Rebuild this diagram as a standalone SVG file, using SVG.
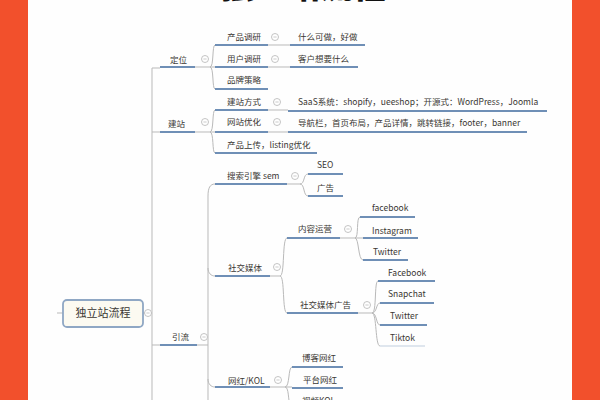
<svg xmlns="http://www.w3.org/2000/svg" width="600" height="400" viewBox="0 0 600 400">
<style>
text{font-family:"Noto Sans CJK SC","Liberation Sans",sans-serif;font-size:8.5px;fill:#3a3733}
.ul{stroke:#6f8fb6;stroke-width:1.8;fill:none}
.cn{stroke:#b9b9b9;stroke-width:1;fill:none}
.ci{fill:#fff;stroke:#b5b5b5;stroke-width:0.8}
</style>
<defs>
<g id="col"><circle class="ci" r="3.5"/><line x1="-1.6" y1="0" x2="1.6" y2="0" stroke="#b5b5b5" stroke-width="0.7"/></g>
</defs>
<rect width="600" height="400" fill="#fefefe"/>
<rect x="0" y="0" width="28" height="400" fill="#f2502c"/>
<rect x="572" y="0" width="28" height="400" fill="#f2502c"/>
<text x="303" y="-2" text-anchor="middle" style="font-size:33px;font-weight:900;fill:#111">独立站流程</text>

<g id="connectors">
<path class="cn" d="M57,313H63M143,313H152M152,68V400M152,68H160M152,132H160M152,345H160"/>
<path class="cn" d="M195,67H210M210,67C214,67 212,45 215,45M210,67H215M210,67C214,67 212,89 215,89"/>
<path class="cn" d="M195,132H210M210,132C214,132 212,110 215,110M210,132H215M210,132C214,132 212,153 215,153"/>
<path class="cn" d="M268,45H290M268,67H290M268,110H288M268,132H288"/>
<path class="cn" d="M197,345H208M215,184C210,184 208,188 208,196V400M208,268C208,273 211,276 215,276M208,379C208,384 211,387 215,387"/>
<path class="cn" d="M287,184H300M300,184C305,184 303,174 308,174M300,184C305,184 303,196 308,196"/>
<path class="cn" d="M270,276H280M280,276C285,276 282,238 287,238M280,276C285,276 282,313 287,313"/>
<path class="cn" d="M340,238H363M355,238C359,238 356,217 360,217M355,238C359,238 358,260 363,260"/>
<path class="cn" d="M358,313H372M372,313C377,313 374,281 378,281M372,313C377,313 376,303 380,303M372,313C377,313 376,325 380,325M372,313C377,313 375,346 380,346"/>
<path class="cn" d="M270,387H285M285,387C290,387 288,367 292,367M285,387H292M285,387C289,387 288,400 290,405"/>
</g>

<g id="root">
<rect x="63" y="300" width="80" height="27" rx="4" fill="#fcfaf1" stroke="#8fa7c4" stroke-width="1.8"/>
<text x="103" y="317" text-anchor="middle" style="font-size:11px">独立站流程</text>
<use href="#col" x="148" y="313"/>
</g>

<g id="dingwei">
<text x="170" y="63">定位</text><path class="ul" d="M160,67H195"/><use href="#col" x="205" y="59"/>
</g>
<g id="chanpindiaoyan">
<text x="227" y="40">产品调研</text><path class="ul" d="M215,45H268"/><use href="#col" x="275" y="37"/>
</g>
<g id="yonghudiaoyan">
<text x="227" y="62">用户调研</text><path class="ul" d="M215,67H268"/><use href="#col" x="275" y="59"/>
</g>
<g id="pinpaicelue">
<text x="227" y="83">品牌策略</text><path class="ul" d="M215,89H268"/>
</g>
<g id="shenmekezuo">
<text x="298" y="40">什么可做，好做</text><path class="ul" d="M290,45H365"/>
</g>
<g id="kehuxiangyao">
<text x="298" y="62">客户想要什么</text><path class="ul" d="M290,67H358"/>
</g>

<g id="jianzhan">
<text x="168" y="127">建站</text><path class="ul" d="M160,132H195"/><use href="#col" x="205" y="122"/>
</g>
<g id="jianzhanfangshi">
<text x="227" y="105">建站方式</text><path class="ul" d="M215,110H268"/><use href="#col" x="277" y="102"/>
</g>
<g id="wangzhanyouhua">
<text x="227" y="125">网站优化</text><path class="ul" d="M215,132H268"/><use href="#col" x="277" y="122"/>
</g>
<g id="chanpinshangchuan">
<text x="227" y="148">产品上传，listing优化</text><path class="ul" d="M215,153H317"/>
</g>
<g id="saas">
<text x="298" y="105">SaaS系统：shopify，ueeshop；开源式：WordPress，Joomla</text><path class="ul" d="M288,111H547"/>
</g>
<g id="daohang">
<text x="298" y="126">导航栏，首页布局，产品详情，跳转链接，footer，banner</text><path class="ul" d="M288,132H527"/>
</g>

<g id="yinliu">
<text x="172" y="340">引流</text><path class="ul" d="M160,345H197"/><use href="#col" x="204" y="337"/>
</g>
<g id="sousuo">
<text x="227" y="179">搜索引擎 sem</text><path class="ul" d="M215,184H287"/><use href="#col" x="295" y="176"/>
</g>
<g id="seo">
<text x="317" y="168">SEO</text><path class="ul" d="M308,174H343"/>
</g>
<g id="guanggao">
<text x="317" y="191">广告</text><path class="ul" d="M308,196H343"/>
</g>
<g id="shejiao">
<text x="228" y="271">社交媒体</text><path class="ul" d="M215,276H270"/><use href="#col" x="277" y="267"/>
</g>
<g id="neirong">
<text x="298" y="232">内容运营</text><path class="ul" d="M287,238H340"/><use href="#col" x="348" y="229"/>
</g>
<g id="facebook1">
<text x="372" y="211">facebook</text><path class="ul" d="M360,217H415"/>
</g>
<g id="instagram">
<text x="372" y="234">Instagram</text><path class="ul" d="M363,238H418"/>
</g>
<g id="twitter1">
<text x="373" y="255">Twitter</text><path class="ul" d="M363,260H408"/>
</g>
<g id="shejiaoguanggao">
<text x="300" y="308">社交媒体广告</text><path class="ul" d="M287,313H358"/><use href="#col" x="367" y="305"/>
</g>
<g id="facebook2">
<text x="388" y="276">Facebook</text><path class="ul" d="M378,281H435"/>
</g>
<g id="snapchat">
<text x="388" y="297">Snapchat</text><path class="ul" d="M380,303H434"/>
</g>
<g id="twitter2">
<text x="390" y="319">Twitter</text><path class="ul" d="M380,325H427"/>
</g>
<g id="tiktok">
<text x="390" y="341">Tiktok</text><path class="ul" d="M380,346H425" style="stroke:#dfe6ee"/>
</g>
<g id="wanghong">
<text x="228" y="384">网红/KOL</text><path class="ul" d="M215,387H270"/><use href="#col" x="278" y="380"/>
</g>
<g id="boke">
<text x="302" y="361">博客网红</text><path class="ul" d="M292,367H343"/>
</g>
<g id="pingtai">
<text x="303" y="383">平台网红</text><path class="ul" d="M292,388H343"/>
</g>
<g id="shipin">
<text x="302" y="404">视频KOL</text>
</g>
</svg>
